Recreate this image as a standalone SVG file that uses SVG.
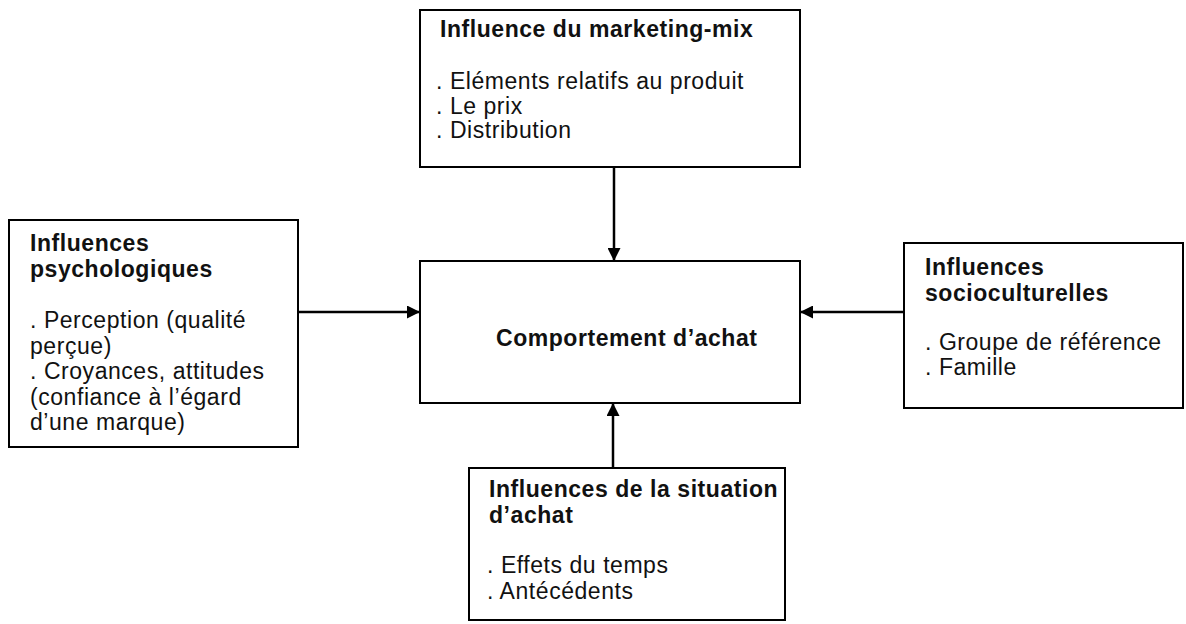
<svg xmlns="http://www.w3.org/2000/svg" width="1186" height="624" viewBox="0 0 1186 624">
<style>
.box{fill:#fff;stroke:#000;stroke-width:2}
.t{font-family:"Liberation Sans",Arial,sans-serif;font-size:23px;fill:#111;letter-spacing:0.55px}
.b{font-weight:bold}
.c{stroke:#000;stroke-width:2.5;fill:none}
</style>
<defs>
<marker id="ah" markerWidth="13" markerHeight="13" refX="12" refY="6.5" orient="auto" markerUnits="userSpaceOnUse">
<path d="M0,0 L13,6.5 L0,13 Z" fill="#000"/>
</marker>
</defs>
<rect width="1186" height="624" fill="#fff"/>
<g id="connectors">
<line class="c" x1="614" y1="167" x2="614" y2="260" marker-end="url(#ah)"/>
<line class="c" x1="298" y1="312" x2="419" y2="312" marker-end="url(#ah)"/>
<line class="c" x1="904" y1="312" x2="801" y2="312" marker-end="url(#ah)"/>
<line class="c" x1="613" y1="468" x2="613" y2="404" marker-end="url(#ah)"/>
</g>
<g id="marketing-mix">
<rect class="box" x="420" y="10" width="380" height="157"/>
<text class="t b" x="440" y="37">Influence du marketing-mix</text>
<text class="t" x="436" y="89">. Eléments relatifs au produit</text>
<text class="t" x="436" y="113.5">. Le prix</text>
<text class="t" x="436" y="138">. Distribution</text>
</g>
<g id="psychologiques">
<rect class="box" x="9" y="220" width="289" height="227"/>
<text class="t b" x="30" y="251">Influences</text>
<text class="t b" x="30" y="277">psychologiques</text>
<text class="t" x="30" y="328">. Perception (qualité</text>
<text class="t" x="30" y="353.5">perçue)</text>
<text class="t" x="30" y="379">. Croyances, attitudes</text>
<text class="t" x="30" y="404.5">(confiance à l’égard</text>
<text class="t" x="30" y="430">d’une marque)</text>
</g>
<g id="comportement">
<rect class="box" x="420" y="261" width="380" height="142"/>
<text class="t b" x="496" y="346">Comportement d’achat</text>
</g>
<g id="socioculturelles">
<rect class="box" x="904" y="243" width="279" height="165"/>
<text class="t b" x="925" y="275">Influences</text>
<text class="t b" x="925" y="301">socioculturelles</text>
<text class="t" x="925" y="350">. Groupe de référence</text>
<text class="t" x="925" y="375">. Famille</text>
</g>
<g id="situation">
<rect class="box" x="469" y="468" width="316" height="152"/>
<text class="t b" x="489" y="497">Influences de la situation</text>
<text class="t b" x="489" y="523">d’achat</text>
<text class="t" x="487" y="573">. Effets du temps</text>
<text class="t" x="487" y="599">. Antécédents</text>
</g>
</svg>
